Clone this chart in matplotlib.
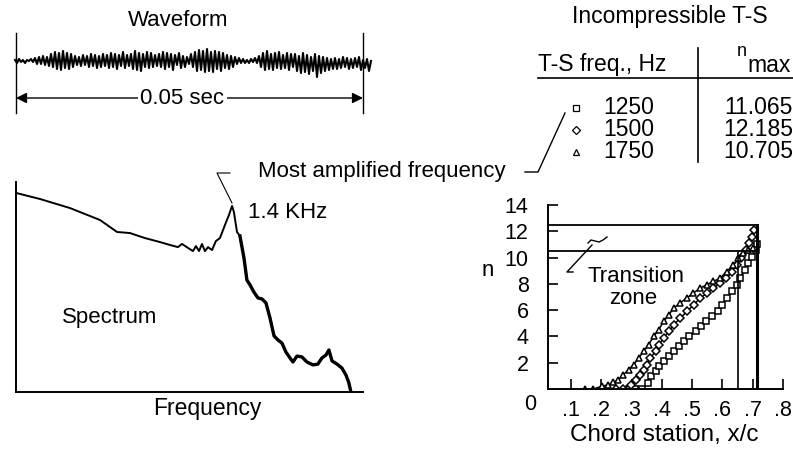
#!/usr/bin/env python3
"""Waveform, spectrum and n-factor growth for incompressible T-S waves."""

import matplotlib

matplotlib.use("Agg")
import matplotlib.pyplot as plt
import numpy as np

plt.rcParams["font.family"] = ["Liberation Sans", "DejaVu Sans"]

W, H = 793, 450

# waveform samples (arbitrary amplitude), 0.05 sec record
WAVE_SPAN = 0.05
WAVE = [
    1, -2, 2, -1, 1, -2, 1, 0, 2, -1,
    3, -3, 4, -3, 5, -4, 4, -5, 7, -6,
    9, -8, 8, -9, 10, -7, 8, -8, 7, -6,
    5, -4, 4, -5, 6, -4, 5, -6, 7, -5,
    6, -7, 5, -6, 7, -5, 6, -7, 8, -6,
    7, -8, 6, -5, 9, -7, 6, -5, 7, -8,
    10, -9, 8, -10, 7, -6, 9, -7, 8, -6,
    6, -5, 7, -6, 9, -8, 8, -6, 7, -9,
    6, -4, 8, -7, 5, -6, 4, -3, 7, -6,
    9, -10, 11, -9, 10, -11, 12, -10, 9, -11,
    10, -8, 9, -10, 8, -7, 6, -8, 5, -6,
    4, -3, 3, -2, 2, -2, 1, -2, 2, -1,
    3, -2, 5, -6, 8, -9, 10, -8, 7, -9,
    8, -7, 9, -8, 6, -7, 8, -9, 7, -6,
    7, -10, 5, -12, 8, -11, 6, -13, 4, -10,
    7, -16, 5, -12, 4, -10, 3, -9, 2, -8,
    3, -8, 2, -7, 4, -6, 3, -8, 2, -7,
    3, -6, 4, -9, 1, -7, 2, -10, 0,
]

# spectrum: frequency (kHz) and relative amplitude
SPEC_F = [
    0.0, 0.155, 0.348, 0.542, 0.652, 0.735, 0.832, 0.929, 0.994, 1.045,
    1.071, 1.110, 1.142, 1.161, 1.181, 1.200, 1.219, 1.239, 1.265, 1.290,
    1.316, 1.348, 1.374, 1.394, 1.406, 1.426, 1.445, 1.471, 1.490, 1.510,
    1.535, 1.561, 1.587, 1.613, 1.639, 1.665, 1.690, 1.716, 1.742, 1.768,
    1.787, 1.813, 1.845, 1.877, 1.916, 1.948, 1.974, 2.000, 2.019, 2.039,
    2.071, 2.103, 2.129, 2.148, 2.161,
]
SPEC_A = [
    0.948, 0.919, 0.876, 0.819, 0.762, 0.757, 0.733, 0.714, 0.700, 0.690,
    0.705, 0.686, 0.671, 0.695, 0.671, 0.705, 0.671, 0.690, 0.676, 0.719,
    0.733, 0.795, 0.843, 0.886, 0.857, 0.762, 0.743, 0.638, 0.533, 0.510,
    0.476, 0.448, 0.443, 0.424, 0.352, 0.267, 0.248, 0.233, 0.190, 0.162,
    0.143, 0.171, 0.167, 0.143, 0.129, 0.133, 0.162, 0.176, 0.200, 0.148,
    0.133, 0.114, 0.081, 0.043, 0.0,
]
PEAK_IDX = 23

# n-factor vs chord station
X_1250 = [0.290, 0.312, 0.334, 0.353, 0.364, 0.381, 0.392, 0.408, 0.425, 0.441,
          0.458, 0.474, 0.491, 0.512, 0.529, 0.545, 0.567, 0.584, 0.600, 0.616,
          0.632, 0.648, 0.659, 0.674, 0.684, 0.699, 0.711, 0.714]
N_1250 = [0.0, 0.0, 0.0, 0.45, 0.96, 1.34, 1.72, 2.10, 2.48, 2.86,
          3.24, 3.62, 4.00, 4.38, 4.76, 5.14, 5.52, 5.90, 6.41, 6.92,
          7.42, 7.93, 8.43, 9.07, 9.57, 10.08, 10.58, 11.0]
X_1500 = [0.250, 0.272, 0.298, 0.316, 0.328, 0.340, 0.351, 0.362, 0.379, 0.390,
          0.406, 0.423, 0.439, 0.461, 0.483, 0.505, 0.527, 0.549, 0.570, 0.591,
          0.612, 0.632, 0.648, 0.662, 0.677, 0.688, 0.698, 0.705]
N_1500 = [0.0, 0.0, 0.33, 0.71, 1.09, 1.47, 1.85, 2.36, 2.86, 3.37,
          3.88, 4.38, 4.89, 5.40, 5.90, 6.41, 6.92, 7.30, 7.67, 8.05,
          8.43, 8.94, 9.44, 9.95, 10.58, 11.09, 11.60, 12.10]
X_1750 = [0.146, 0.174, 0.201, 0.223, 0.240, 0.256, 0.273, 0.290, 0.307, 0.323,
          0.340, 0.356, 0.373, 0.389, 0.406, 0.423, 0.439, 0.460, 0.482, 0.504,
          0.526, 0.548, 0.570, 0.592, 0.614, 0.636, 0.653, 0.669, 0.686, 0.700]
N_1750 = [0.0, 0.0, 0.2, 0.33, 0.5, 0.7, 1.09, 1.47, 1.85, 2.36,
          2.86, 3.37, 4.0, 4.5, 5.14, 5.65, 6.15, 6.54, 6.92, 7.30,
          7.67, 7.93, 8.18, 8.43, 8.94, 9.44, 9.95, 10.33, 10.55, 10.7]

TS_FREQ = ["1250", "1500", "1750"]
N_MAX = ["11.065", "12.185", "10.705"]
MARKERS = ["s", "D", "^"]

N_TOP, N_LOW = 12.5, 10.5
X_TOP, X_LOW = 0.715, 0.653


def px_rect(x0, y0, x1, y1):
    return [x0 / W, 1 - y1 / H, (x1 - x0) / W, (y1 - y0) / H]


fig = plt.figure(figsize=(W / 100, H / 100), dpi=100)
FS = 16
FS_TAB = 16.5

# --- waveform ---
ax_w = fig.add_axes(px_rect(10, 25, 380, 115))
px_per_s = 347 / WAVE_SPAN
ax_w.set_xlim(-6 / px_per_s, WAVE_SPAN + 17 / px_per_s)
ax_w.set_ylim(-54, 36)
ax_w.axis("off")
t = -1 / px_per_s + np.arange(len(WAVE)) * (2 / px_per_s)
ax_w.plot(t, WAVE, color="black", lw=1.5)
for tb in (0, WAVE_SPAN):
    ax_w.plot([tb, tb], [28, -52], color="black", lw=1)
ax_w.annotate("", xy=(0, -37), xytext=(WAVE_SPAN, -37),
              arrowprops=dict(arrowstyle="<|-|>", color="black", lw=1,
                              mutation_scale=16, shrinkA=0, shrinkB=0))
ax_w.text(WAVE_SPAN * 0.48, -37, "0.05 sec", fontsize=FS, ha="center", va="center",
          bbox=dict(facecolor="white", edgecolor="none", pad=2))

# --- spectrum ---
ax_s = fig.add_axes(px_rect(16, 182, 363, 392))
ax_s.plot(SPEC_F, SPEC_A, color="black", lw=1.4)
ax_s.plot(SPEC_F[PEAK_IDX + 3:], SPEC_A[PEAK_IDX + 3:], color="black", lw=2.4)
ax_s.set_xlim(0, 2.239)
ax_s.set_ylim(0, 1)
for side in ("top", "right"):
    ax_s.spines[side].set_visible(False)
for side in ("left", "bottom"):
    ax_s.spines[side].set_linewidth(1.4)
ax_s.set_xticks([])
ax_s.set_yticks([])
ax_s.patch.set_alpha(0)

# --- n-factor plot ---
ax_n = fig.add_axes(px_rect(548, 205, 783, 389))
ax_n.set_xlim(0.024, 0.8)
ax_n.set_ylim(0, 14)
for xs, ns, m in zip((X_1250, X_1500, X_1750), (N_1250, N_1500, N_1750), MARKERS):
    ax_n.plot(xs, ns, color="black", lw=1.1, marker=m, ms=4.6 if m != "D" else 4.2,
              mfc="white", mec="black", mew=1.1)
ax_n.plot([0.024, X_TOP], [N_TOP, N_TOP], color="black", lw=1.3)
ax_n.plot([0.024, X_TOP], [N_LOW, N_LOW], color="black", lw=1.3)
ax_n.plot([X_LOW, X_LOW], [0, N_LOW], color="black", lw=1.2)
ax_n.plot([X_TOP, X_TOP], [0, N_TOP], color="black", lw=2.2)
for side in ("top", "right"):
    ax_n.spines[side].set_visible(False)
for side in ("left", "bottom"):
    ax_n.spines[side].set_linewidth(1.4)
ax_n.set_xticks([0.1, 0.2, 0.3, 0.4, 0.5, 0.6, 0.7, 0.8])
ax_n.set_xticklabels([".1", ".2", ".3", ".4", ".5", ".6", ".7", ".8"], fontsize=15.5)
ax_n.set_yticks([2, 4, 6, 8, 10, 12, 14])
ax_n.set_yticklabels(["2", "4", "6", "8", "10", "12", "14"], fontsize=15.5)
ax_n.tick_params(direction="in", length=7, width=1.2, pad=8)
ax_n.tick_params(axis="y", pad=14)
ax_n.patch.set_alpha(0)

# --- overlay: labels, table, leaders ---
ov = fig.add_axes([0, 0, 1, 1])
ov.set_xlim(0, W)
ov.set_ylim(H, 0)
ov.axis("off")
ov.patch.set_alpha(0)

ov.text(178, 20, "Waveform", fontsize=FS, ha="center", va="center")
ov.text(110, 318, "Spectrum", fontsize=FS, ha="center", va="center")
ov.text(207, 408, "Frequency", fontsize=FS + 0.5, ha="center", va="center")
ov.text(248, 213, "1.4 KHz", fontsize=FS, ha="left", va="center")
ov.text(258, 171, "Most amplified frequency", fontsize=FS, ha="left", va="center")
ov.plot([232, 217, 230], [203, 173, 173], color="black", lw=0.8)
ov.plot([525, 538, 565], [172, 172, 113], color="black", lw=1)

ov.text(670, 17, "Incompressible T-S", fontsize=FS_TAB, ha="center", va="center")
ov.text(602, 64, "T-S freq., Hz", fontsize=FS_TAB, ha="center", va="center")
ov.text(742, 51, "n", fontsize=FS - 3, ha="center", va="center")
ov.text(747, 65, "max", fontsize=FS_TAB, ha="left", va="center")
ov.plot([538, 793], [78, 78], color="black", lw=1.2)
ov.plot([698, 698], [48, 162], color="black", lw=1.2)
for i, (fq, nm, m) in enumerate(zip(TS_FREQ, N_MAX, MARKERS)):
    y = 108 + i * 22
    ov.plot(576, y, marker=m, ms=4.5, mfc="white", mec="black", mew=0.9)
    ov.text(603, y, fq, fontsize=FS_TAB, ha="left", va="center")
    ov.text(793, y, nm, fontsize=FS_TAB, ha="right", va="center")

ov.text(488, 270, "n", fontsize=FS, ha="center", va="center")
ov.text(530, 404, "0", fontsize=15.5, ha="center", va="center")
ov.text(664, 435, "Chord station, x/c", fontsize=17.5, ha="center", va="center")
ov.text(636, 277, "Transition", fontsize=FS, ha="center", va="center")
ov.text(633, 298, "zone", fontsize=FS, ha="center", va="center")
ov.plot([573, 567, 592], [272, 272, 245], color="black", lw=1)
ov.plot([588, 591, 595, 599, 603, 607], [243, 240, 241, 242, 240, 237], color="black", lw=1)

fig.savefig("out.png", dpi=100)
